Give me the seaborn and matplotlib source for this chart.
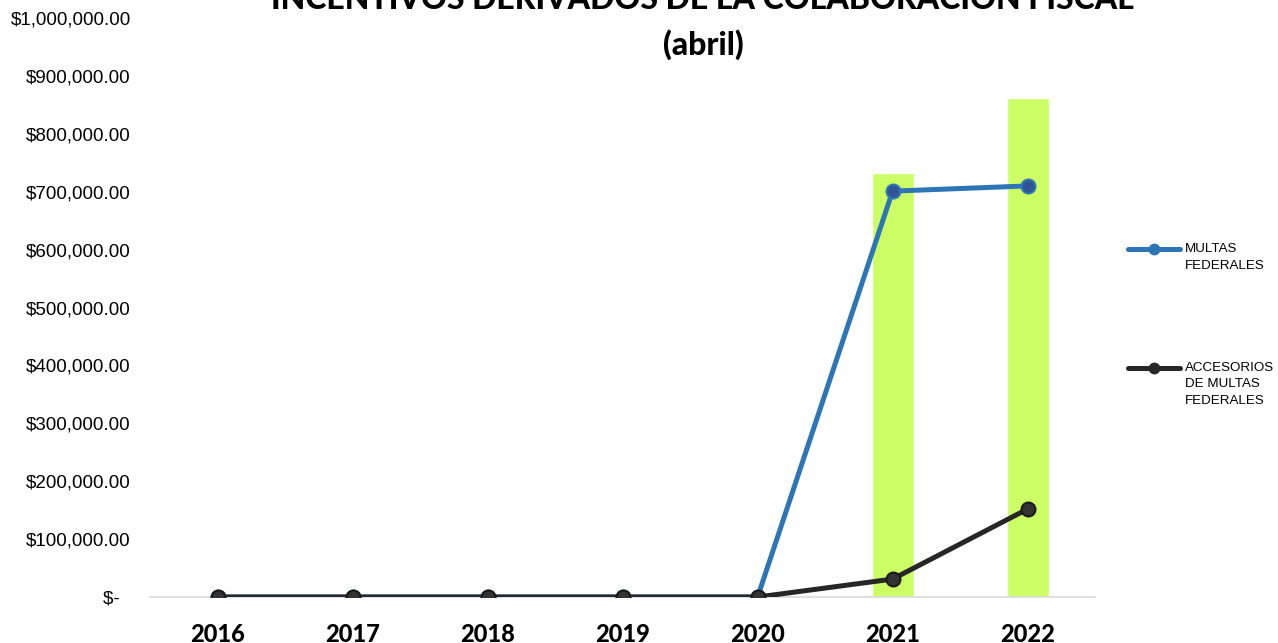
import pandas as pd
import matplotlib.pyplot as plt
import seaborn as sns
from matplotlib.ticker import FuncFormatter

# Datos
anios = ["2016", "2017", "2018", "2019", "2020", "2021", "2022"]
multas = [0, 0, 0, 0, 0, 701000, 710000]
accesorios = [0, 0, 0, 0, 0, 31000, 152000]
total = [0, 0, 0, 0, 0, 732000, 862000]

etiqueta_multas = "MULTAS\nFEDERALES"
etiqueta_accesorios = "ACCESORIOS\nDE MULTAS\nFEDERALES"

df_lineas = pd.DataFrame({
    "anio": anios * 2,
    "valor": multas + accesorios,
    "serie": [etiqueta_multas] * len(anios) + [etiqueta_accesorios] * len(anios),
})
df_barras = pd.DataFrame({"anio": anios, "total": total})

sns.set_theme(style="white")
plt.rcParams["font.family"] = ["Liberation Sans", "DejaVu Sans"]
plt.rcParams["text.color"] = "black"
plt.rcParams["xtick.color"] = "black"
plt.rcParams["ytick.color"] = "black"

fig = plt.figure(figsize=(12.78, 6.43), dpi=100)
ax = fig.add_axes([0.1174, 0.0715, 0.7395, 0.9005])

# Barras verdes (total)
sns.barplot(
    data=df_barras,
    x="anio",
    y="total",
    color="#CCFF66",
    saturation=1,
    width=0.31,
    errorbar=None,
    ax=ax,
    zorder=1
)

# Líneas
sns.pointplot(
    data=df_lineas,
    x="anio",
    y="valor",
    hue="serie",
    palette=["#2E75B6", "#262626"],
    markers="o",
    markersize=10,
    linewidth=3.6,
    errorbar=None,
    dodge=False,
    ax=ax
)

for ln in ax.lines:
    ln.set_zorder(3)
    ln.set_markeredgewidth(1.5)
ax.lines[0].set_markerfacecolor("#2F5597")
ax.lines[0].set_markeredgecolor("#2E75B6")
ax.lines[1].set_markerfacecolor("#333333")
ax.lines[1].set_markeredgecolor("#1A1A1A")

ax.set_xlim(-0.5, 6.5)
ax.set_ylim(0, 1000000)
ax.set_yticks(range(0, 1000001, 100000))


def formato(v, pos):
    if v == 0:
        return "$-  "
    return "${:,.2f}".format(v)


ax.yaxis.set_major_formatter(FuncFormatter(formato))
ax.tick_params(axis="y", labelsize=13.5, pad=14, length=0)
ax.tick_params(axis="x", labelsize=17, pad=19, length=0)
for lbl in ax.get_xticklabels():
    lbl.set_fontweight(900)
    lbl.set_fontfamily("Lato")

for s in ["top", "right", "left"]:
    ax.spines[s].set_visible(False)
ax.spines["bottom"].set_color("#D9D9D9")
ax.spines["bottom"].set_linewidth(1.2)
ax.set_xlabel("")
ax.set_ylabel("")

# leyenda: el marcador queda a la altura de la primera línea del texto
handles, labels = ax.get_legend_handles_labels()
etiquetas_leyenda = ["\n" + etiqueta_multas, "\n\n" + etiqueta_accesorios]
leg = ax.legend(
    handles[-2:],
    etiquetas_leyenda,
    loc="upper left",
    bbox_to_anchor=(0.8782, 0.656),
    bbox_transform=fig.transFigure,
    frameon=False,
    fontsize=9.6,
    labelspacing=4.3,
    handlelength=3.9,
    handletextpad=0.4,
    borderaxespad=0,
)
for t in leg.get_texts():
    t.set_linespacing(1.5)
for h in leg.legend_handles:
    h.set_markersize(7)

fig.text(
    0.55, 1.0016,
    "INCENTIVOS DERIVADOS DE LA COLABORACIÓN FISCAL",
    ha="center", va="center",
    fontsize=23, fontweight=900, family="Lato"
)
fig.text(
    0.55, 0.930,
    "(abril)",
    ha="center", va="center",
    fontsize=23, fontweight=900, family="Lato"
)

fig.savefig("out.png", dpi=100)
